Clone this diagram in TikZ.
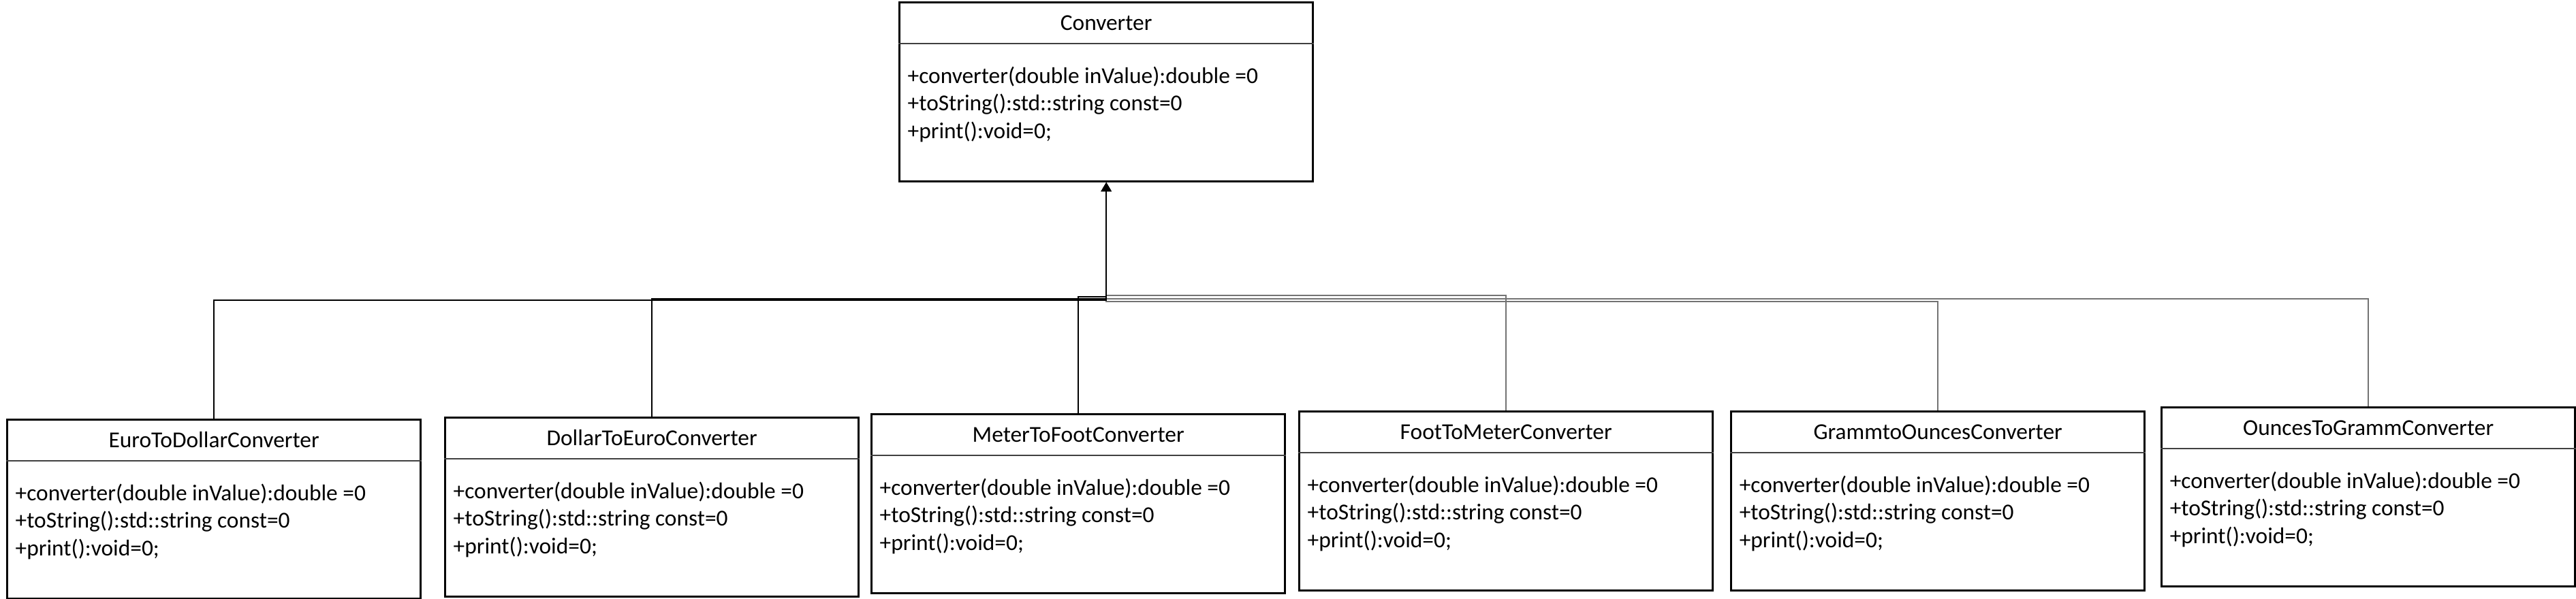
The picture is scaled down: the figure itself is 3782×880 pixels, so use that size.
\documentclass[tikz,border=0pt]{standalone}
\usepackage{fontspec}
\setmainfont{Carlito}
\usetikzlibrary{arrows.meta,calc}
\tikzset{
  cbox/.style={draw, line width=0.85pt, minimum width=6.07cm, minimum height=2.63cm, inner sep=0pt, anchor=north west},
  sepline/.style={line width=0.45pt, draw=black!75},
  ctitle/.style={font=\fontsize{9.5}{11.6}\selectfont, anchor=base, inner sep=0pt},
  cmem/.style={font=\fontsize{9.5}{11.6}\selectfont, anchor=base west, inner sep=0pt},
  conndark/.style={line width=0.45pt, draw=black},
  conngray/.style={line width=0.5pt, draw=black!55},
  inh/.style={-{Triangle[width=0.15cm,length=0.13cm]}},
}
\newcommand\umlbox[4]{%
  \node[cbox] (#1) at (#2,#3) {};
  \draw[sepline] ([yshift=-0.62cm]#1.north west) -- ([yshift=-0.62cm]#1.north east);
  \node[ctitle] (#1-t) at ([yshift=-0.42cm]#1.north) {#4};
  \node[cmem] (#1-m1) at ([xshift=0.13cm,yshift=-1.20cm]#1.north west) {+converter(double inValue):double =0};
  \node[cmem] (#1-m2) at ([xshift=0.13cm,yshift=-1.605cm]#1.north west) {+toString():std::string const=0};
  \node[cmem] (#1-m3) at ([xshift=0.13cm,yshift=-2.01cm]#1.north west) {+print():void=0;};
}
\begin{document}
\begin{tikzpicture}[x=0.01cm,y=-0.01cm]
\useasboundingbox (0,0) rectangle (3782,880);
\umlbox{conv}{1319}{2}{Converter}
\umlbox{eur}{9}{615}{EuroToDollarConverter}
\umlbox{dol}{652}{612}{DollarToEuroConverter}
\umlbox{met}{1278}{607}{MeterToFootConverter}
\umlbox{foot}{1906}{603}{FootToMeterConverter}
\umlbox{gram}{2540}{603}{GrammtoOuncesConverter}
\umlbox{oun}{3172}{597}{OuncesToGrammConverter}
% connectors (gray ones first, dark ones on top)
\draw[conngray,inh] (foot.north) -- ++(0,-169) -| (conv.south);
\draw[conngray,inh] (gram.north) -- ++(0,-160) -| (conv.south);
\draw[conngray,inh] (oun.north) -- ++(0,-158) -| (conv.south);
\draw[conndark,inh] (eur.north) -- ++(0,-174) -| (conv.south);
\draw[conndark,inh] (dol.north) -- ++(0,-173) -| (conv.south);
\draw[conndark,inh] (met.north) -- ++(0,-171) -| (conv.south);
\end{tikzpicture}
\end{document}
